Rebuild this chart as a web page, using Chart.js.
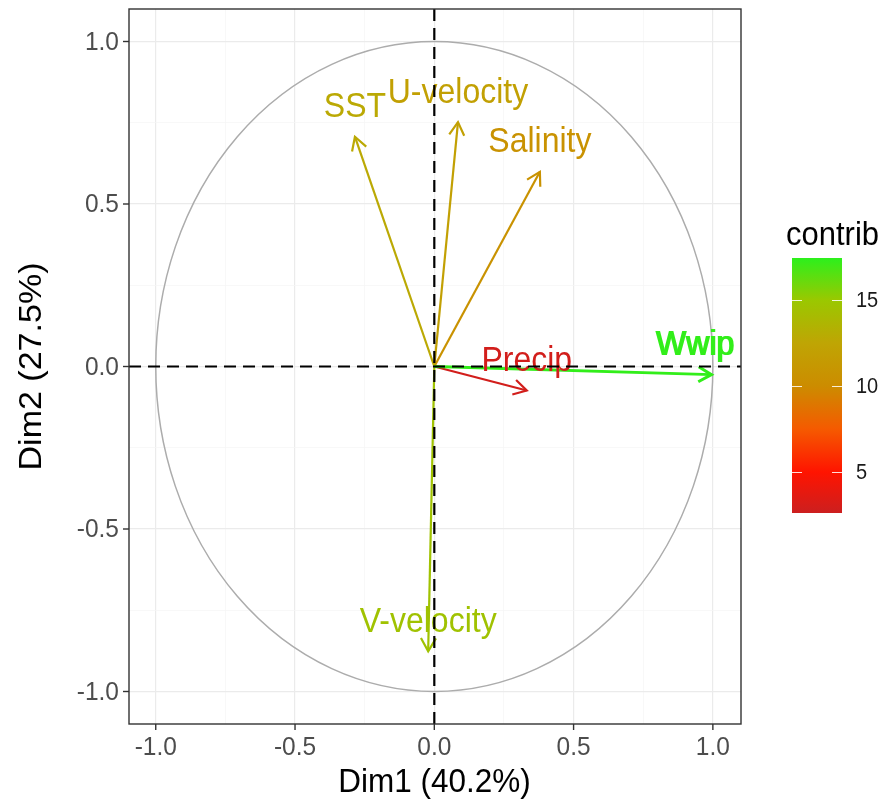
<!DOCTYPE html>
<html>
<head>
<meta charset="utf-8">
<script src="https://cdn.jsdelivr.net/npm/chart.js@4.4.0/dist/chart.umd.min.js"></script>
<style>
  html, body { margin: 0; padding: 0; background: #fff; }
  #wrap { width: 892px; height: 808px; }
</style>
</head>
<body>
<div id="wrap"><canvas id="pca"></canvas></div>
<script>
// dados
var varNames   = ['Wwip', 'SST', 'U-velocity', 'Salinity', 'Precip', 'V-velocity'];
var dim1       = [0.995, -0.285, 0.085, 0.379, 0.332, -0.022];
var dim2       = [-0.025, 0.707, 0.752, 0.599, -0.074, -0.876];
var contrib    = [17.3, 12.8, 12.0, 10.6, 2.9, 14.6];
var majorTicks = [-1, -0.5, 0, 0.5, 1];
var minorTicks = [-0.75, -0.25, 0.25, 0.75];
var tickLabels = ['-1.0', '-0.5', '0.0', '0.5', '1.0'];
var contribTicks = [5, 10, 15];
var contribRange = [2.62, 17.44];
var stopVals   = [2.62, 5, 7.5, 10, 12.5, 15, 17.44];
var stopCols   = ['#cc1f1f', '#ff1400', '#f55a00', '#cc8c00', '#bfa504', '#9ac800', '#2cf01c'];

var FONT = "'Liberation Sans', Arial, sans-serif";
var SY = 1.08; // texto um pouco alongado na vertical, como na figura

function hexRgb(h) {
  return [parseInt(h.substr(1,2),16), parseInt(h.substr(3,2),16), parseInt(h.substr(5,2),16)];
}
function contribColor(v) {
  for (var i = 0; i < stopVals.length - 1; i++) {
    if (v <= stopVals[i+1] || i === stopVals.length - 2) {
      var t = Math.max(0, Math.min(1, (v - stopVals[i]) / (stopVals[i+1] - stopVals[i])));
      var a = hexRgb(stopCols[i]), b = hexRgb(stopCols[i+1]);
      return 'rgb(' + Math.round(a[0]+(b[0]-a[0])*t) + ',' + Math.round(a[1]+(b[1]-a[1])*t) + ',' + Math.round(a[2]+(b[2]-a[2])*t) + ')';
    }
  }
}
function isMajor(v) {
  return majorTicks.some(function(m){ return Math.abs(m - v) < 1e-9; });
}
function sText(ctx, txt, x, y, rot) {
  ctx.save();
  ctx.translate(x, y);
  if (rot) { ctx.rotate(rot); ctx.scale(SY, 1); } else { ctx.scale(1, SY); }
  ctx.fillText(txt, 0, 0);
  ctx.restore();
}

var datasets = varNames.map(function(n, i) {
  return {
    label: n,
    data: [{x: 0, y: 0}, {x: dim1[i], y: dim2[i]}],
    showLine: true,
    borderColor: contribColor(contrib[i]),
    borderWidth: i === 0 ? 3 : 2.2,
    pointRadius: 0,
    fill: false
  };
});

var gridOpts = {
  drawTicks: false,
  color: function(c) { return isMajor(c.tick.value) ? '#ebebeb' : '#f5f5f5'; },
  lineWidth: function(c) { return isMajor(c.tick.value) ? 1.2 : 0.7; }
};
function setTicks(s) {
  s.ticks = majorTicks.concat(minorTicks).map(function(v){ return {value: v}; });
}

var pcaPlugin = {
  id: 'pca',
  beforeDatasetsDraw: function(chart) {
    var ctx = chart.ctx, ca = chart.chartArea, x = chart.scales.x, y = chart.scales.y;
    var cx = x.getPixelForValue(0), cy = y.getPixelForValue(0);
    ctx.save();
    ctx.beginPath(); ctx.rect(ca.left, ca.top, ca.right - ca.left, ca.bottom - ca.top); ctx.clip();
    ctx.beginPath();
    ctx.ellipse(cx, cy, x.getPixelForValue(1) - cx, cy - y.getPixelForValue(1), 0, 0, Math.PI * 2);
    ctx.strokeStyle = '#acacac'; ctx.lineWidth = 1.5; ctx.stroke();
    ctx.restore();
  },
  afterDatasetsDraw: function(chart) {
    var ctx = chart.ctx, ca = chart.chartArea, x = chart.scales.x, y = chart.scales.y;
    var x0 = x.getPixelForValue(0), y0 = y.getPixelForValue(0);

    ctx.save();
    ctx.beginPath(); ctx.rect(ca.left, ca.top, ca.right - ca.left, ca.bottom - ca.top); ctx.clip();
    // pontas das setas
    for (var i = varNames.length - 1; i >= 0; i--) {
      var px = x.getPixelForValue(dim1[i]), py = y.getPixelForValue(dim2[i]);
      var ang = Math.atan2(py - y0, px - x0), L = 15, A = Math.PI / 6;
      ctx.beginPath();
      ctx.moveTo(px - L * Math.cos(ang - A), py - L * Math.sin(ang - A));
      ctx.lineTo(px, py);
      ctx.lineTo(px - L * Math.cos(ang + A), py - L * Math.sin(ang + A));
      ctx.strokeStyle = contribColor(contrib[i]); ctx.lineWidth = i === 0 ? 3 : 2.2; ctx.lineJoin = 'miter';
      ctx.stroke();
    }
    // rótulos
    ctx.font = '32px ' + FONT;
    ctx.textAlign = 'center'; ctx.textBaseline = 'middle';
    for (var j = varNames.length - 1; j >= 0; j--) {
      var lx = x.getPixelForValue(dim1[j]), ly = y.getPixelForValue(dim2[j]) - 29;
      ctx.fillStyle = contribColor(contrib[j]);
      if (j === 0) {
        // dois rótulos quase sobrepostos na figura original
        sText(ctx, varNames[j], lx - 17, ly);
        sText(ctx, varNames[j], lx - 15.5, ly);
      } else {
        sText(ctx, varNames[j], lx, ly);
      }
    }
    // linhas tracejadas
    ctx.setLineDash([12, 7]);
    ctx.strokeStyle = '#000'; ctx.lineWidth = 2.2;
    ctx.beginPath(); ctx.moveTo(ca.left, y0); ctx.lineTo(ca.right, y0); ctx.stroke();
    ctx.beginPath(); ctx.moveTo(x0, ca.top); ctx.lineTo(x0, ca.bottom); ctx.stroke();
    ctx.restore();

    // borda do painel
    ctx.save();
    ctx.strokeStyle = '#333'; ctx.lineWidth = 1.4;
    ctx.strokeRect(ca.left, ca.top, ca.right - ca.left, ca.bottom - ca.top);
    // marcas e rótulos dos eixos
    ctx.font = '24.5px ' + FONT; ctx.fillStyle = '#4d4d4d';
    majorTicks.forEach(function(v, k) {
      var px = x.getPixelForValue(v), py = y.getPixelForValue(v);
      ctx.beginPath(); ctx.moveTo(px, ca.bottom); ctx.lineTo(px, ca.bottom + 6); ctx.stroke();
      ctx.beginPath(); ctx.moveTo(ca.left, py); ctx.lineTo(ca.left - 6, py); ctx.stroke();
      ctx.textAlign = 'center'; ctx.textBaseline = 'middle';
      sText(ctx, tickLabels[k], px, ca.bottom + 24);
      ctx.textAlign = 'right';
      sText(ctx, tickLabels[k], ca.left - 10, py + 1);
    });
    // títulos
    ctx.fillStyle = '#000'; ctx.font = '31.5px ' + FONT;
    ctx.textAlign = 'center'; ctx.textBaseline = 'middle';
    sText(ctx, 'Dim1 (40.2%)', (ca.left + ca.right) / 2 - 0.5, 783);
    sText(ctx, 'Dim2 (27.5%)', 32, (ca.top + ca.bottom) / 2, -Math.PI / 2);

    // legenda contrib
    var bx = 792, bw = 50, bTop = 258, bBot = 513;
    function vy(v) { return bBot - (v - contribRange[0]) / (contribRange[1] - contribRange[0]) * (bBot - bTop); }
    var g = ctx.createLinearGradient(0, bBot, 0, bTop);
    stopVals.forEach(function(v, k) {
      g.addColorStop((v - contribRange[0]) / (contribRange[1] - contribRange[0]), stopCols[k]);
    });
    ctx.fillStyle = g; ctx.fillRect(bx, bTop, bw, bBot - bTop);
    ctx.strokeStyle = 'rgba(255,255,255,0.85)'; ctx.lineWidth = 1;
    ctx.font = '20px ' + FONT; ctx.textAlign = 'left'; ctx.textBaseline = 'middle';
    contribTicks.forEach(function(v) {
      var ty = Math.round(vy(v)) + 0.5;
      ctx.beginPath(); ctx.moveTo(bx, ty); ctx.lineTo(bx + 10, ty); ctx.stroke();
      ctx.beginPath(); ctx.moveTo(bx + bw - 10, ty); ctx.lineTo(bx + bw, ty); ctx.stroke();
      ctx.fillStyle = '#1a1a1a';
      sText(ctx, String(v), 856, ty + 1);
    });
    ctx.fillStyle = '#000'; ctx.font = '31px ' + FONT; ctx.textBaseline = 'alphabetic';
    sText(ctx, 'contrib', 786, 245);
    ctx.restore();
  }
};

new Chart(document.getElementById('pca'), {
  type: 'scatter',
  data: { datasets: datasets },
  plugins: [pcaPlugin],
  options: {
    responsive: true,
    maintainAspectRatio: false,
    animation: false,
    layout: { padding: { left: 129, top: 9, right: 151, bottom: 84 } },
    plugins: { legend: { display: false }, tooltip: { enabled: false } },
    scales: {
      x: {
        type: 'linear', min: -1.096, max: 1.101,
        afterBuildTicks: setTicks,
        afterFit: function(s) { s.height = 0; },
        ticks: { display: false },
        grid: gridOpts,
        border: { display: false }
      },
      y: {
        type: 'linear', min: -1.1, max: 1.1,
        afterBuildTicks: setTicks,
        afterFit: function(s) { s.width = 0; },
        ticks: { display: false },
        grid: gridOpts,
        border: { display: false }
      }
    }
  }
});
</script>
</body>
</html>
